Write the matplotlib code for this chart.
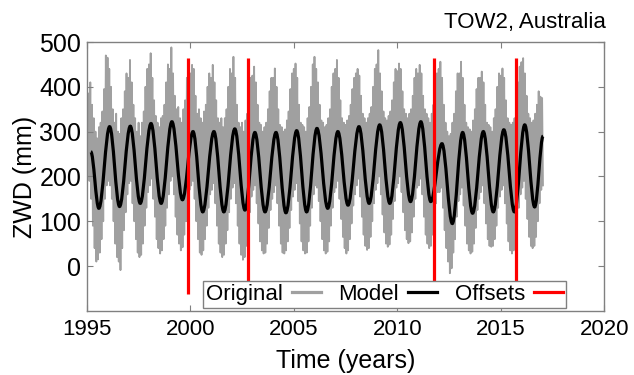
import numpy as np
import matplotlib
matplotlib.use("Agg")
import matplotlib.pyplot as plt
from matplotlib.lines import Line2D
from matplotlib.path import Path
from matplotlib.patches import PathPatch

plt.rcParams['font.family'] = ['Liberation Sans', 'DejaVu Sans']

# Original ZWD series: monthly max / min (mm)
# first row starts in Feb 1995, last row is Jan 2017
orig_hi = [
    [385, 410, 360, 330, 300, 285, 310, 320, 345, 395, 470],
    [465, 440, 400, 350, 320, 340, 300, 295, 330, 350, 390, 430],
    [420, 460, 410, 360, 330, 300, 320, 290, 320, 345, 400, 440],
    [450, 475, 420, 370, 335, 320, 310, 330, 335, 360, 410, 450],
    [440, 488, 430, 380, 350, 355, 330, 320, 350, 370, 420, 455],
    [430, 449, 440, 380, 340, 350, 330, 320, 345, 360, 400, 430],
    [420, 449, 410, 370, 330, 320, 330, 310, 330, 350, 400, 440],
    [430, 467, 420, 360, 320, 310, 320, 300, 325, 340, 395, 420],
    [425, 445, 410, 360, 320, 315, 300, 310, 320, 350, 390, 420],
    [420, 441, 400, 350, 315, 310, 300, 305, 325, 345, 395, 430],
    [440, 452, 420, 360, 320, 315, 310, 300, 330, 355, 400, 450],
    [467, 440, 410, 360, 325, 320, 310, 315, 330, 350, 400, 430],
    [440, 460, 420, 370, 330, 320, 315, 325, 335, 360, 395, 420],
    [430, 440, 425, 380, 340, 330, 320, 330, 340, 355, 400, 440],
    [450, 482, 430, 390, 345, 330, 325, 335, 345, 370, 410, 440],
    [435, 452, 440, 390, 350, 340, 330, 340, 350, 380, 420, 440],
    [430, 449, 430, 380, 350, 340, 330, 320, 340, 360, 400, 430],
    [440, 456, 420, 360, 320, 300, 290, 295, 320, 340, 390, 430],
    [430, 456, 420, 360, 320, 310, 305, 300, 325, 350, 395, 420],
    [420, 434, 410, 360, 320, 315, 310, 300, 330, 350, 400, 430],
    [425, 441, 420, 370, 330, 320, 315, 320, 330, 355, 410, 445],
    [455, 464, 430, 380, 340, 330, 320, 325, 340, 360, 390, 378],
    [375],
]
orig_lo = [
    [190, 150, 90, 40, 10, 15, 30, 60, 100, 150, 180],
    [190, 180, 150, 100, 50, 20, 10, -9, 40, 80, 120, 160],
    [185, 190, 140, 100, 60, 30, 20, 25, 50, 90, 130, 165],
    [180, 195, 150, 110, 60, 40, 28, 35, 60, 90, 130, 160],
    [190, 200, 160, 110, 70, 50, 35, 42, 70, 100, 140, 170],
    [180, 190, 150, 100, 60, 30, 25, 35, 60, 90, 130, 160],
    [170, 185, 140, 90, 50, 30, 20, 25, 50, 80, 120, 150],
    [175, 185, 140, 90, 50, 25, 14, 20, 45, 80, 120, 155],
    [170, 180, 140, 95, 55, 35, 28, 30, 50, 85, 125, 150],
    [165, 180, 140, 90, 50, 30, 28, 35, 55, 85, 125, 155],
    [170, 185, 145, 95, 55, 35, 28, 30, 55, 90, 130, 160],
    [180, 175, 145, 100, 60, 35, 28, 32, 55, 90, 130, 165],
    [175, 190, 150, 105, 65, 40, 28, 35, 60, 95, 135, 160],
    [180, 195, 155, 110, 70, 45, 36, 40, 65, 100, 140, 170],
    [185, 200, 160, 115, 75, 50, 43, 48, 70, 105, 145, 175],
    [185, 200, 165, 120, 80, 60, 51, 55, 75, 110, 150, 175],
    [180, 195, 160, 110, 70, 50, 40, 45, 70, 100, 140, 165],
    [165, 175, 130, 80, 40, 10, -16, -5, 30, 60, 110, 145],
    [160, 175, 135, 90, 50, 35, 28, 32, 50, 85, 125, 150],
    [165, 180, 140, 95, 60, 45, 43, 45, 60, 90, 130, 155],
    [170, 180, 140, 95, 55, 35, 28, 35, 55, 90, 130, 160],
    [175, 190, 150, 105, 65, 45, 40, 45, 65, 100, 140, 170],
    [180],
]
orig_start = 1995 + 1 / 12

# Seasonal model: start, alternating troughs / peaks, end
model_t = [1995.19, 1995.58, 1996.10, 1996.58, 1997.10, 1997.58, 1998.10,
           1998.59, 1999.11, 1999.62, 2000.13, 2000.60, 2001.14, 2001.62,
           2002.15, 2002.64, 2003.12, 2003.61, 2004.14, 2004.62, 2005.14,
           2005.62, 2006.12, 2006.64, 2007.13, 2007.62, 2008.15, 2008.64,
           2009.15, 2009.64, 2010.15, 2010.64, 2011.14, 2011.62, 2012.16,
           2012.66, 2013.16, 2013.64, 2014.16, 2014.64, 2015.15, 2015.66,
           2016.16, 2016.64, 2017.05]
model_v = [255, 129, 311, 133, 312, 140, 318, 140, 322, 148, 300, 121, 300,
           121, 306, 125, 298, 121, 298, 119, 302, 121, 307, 129, 300, 136,
           311, 140, 315, 140, 320, 144, 322, 144, 273, 95, 298, 118, 300,
           121, 304, 121, 315, 132, 290]

offsets = [1999.88, 2002.78, 2011.76, 2015.72]
offset_lo, offset_hi = -62, 464


def smooth_path(xs, ys, k=0.36):
    """Bezier path through the extrema with flat tangents at each one"""
    verts = [(xs[0], ys[0])]
    codes = [Path.MOVETO]
    for i in range(len(xs) - 1):
        dx = xs[i + 1] - xs[i]
        verts += [(xs[i] + k * dx, ys[i]), (xs[i + 1] - k * dx, ys[i + 1]),
                  (xs[i + 1], ys[i + 1])]
        codes += [Path.CURVE4] * 3
    return Path(verts, codes)


def main():
    hi = np.concatenate([np.array(r, float) for r in orig_hi])
    lo = np.concatenate([np.array(r, float) for r in orig_lo])
    t = orig_start + np.arange(len(hi)) / 12
    # zigzag between monthly max and min
    tz = np.column_stack([t, t + 1 / 24]).ravel()
    vz = np.column_stack([hi, lo]).ravel()

    fig = plt.figure(figsize=(6.34, 3.75), dpi=100)
    ax = fig.add_axes([0.137, 0.171, 0.816, 0.717])

    ax.plot(tz, vz, color='#a0a0a0', lw=1.3, zorder=1)
    ax.add_patch(PathPatch(smooth_path(model_t, model_v), fill=False,
                           edgecolor='black', lw=2.3, zorder=2))
    ax.vlines(offsets, offset_lo, offset_hi, color='#ff0000', lw=2.3, zorder=3)

    ax.set_xlim(1995, 2020)
    ax.set_ylim(-100, 500)
    ax.set_xticks([1995, 2000, 2005, 2010, 2015, 2020])
    ax.set_yticks([0, 100, 200, 300, 400, 500])
    ax.tick_params(direction='in', top=True, right=True, length=4,
                   color='#808080', labelsize=16, pad=6)
    ax.tick_params(axis='y', labelsize=18, pad=4)
    for s in ax.spines.values():
        s.set_color('#808080')
        s.set_linewidth(1)

    ax.set_xlabel("Time (years)", fontsize=18, labelpad=6)
    ax.set_ylabel("ZWD (mm)", fontsize=18, labelpad=2)
    fig.text(0.955, 0.941, "TOW2, Australia", ha='right', va='center',
             fontsize=16)

    handles = [Line2D([], [], color='#a0a0a0', lw=2.3),
               Line2D([], [], color='black', lw=2.3),
               Line2D([], [], color='#ff0000', lw=2.3)]
    leg = ax.legend(handles, ["Original", "Model", "Offsets"], ncol=3,
                    loc='lower center', bbox_to_anchor=(0.575, 0.01),
                    markerfirst=False, fancybox=False, framealpha=1,
                    edgecolor='#808080', fontsize=16, handlelength=1.3,
                    handletextpad=0.4, columnspacing=0.8, borderpad=0.15,
                    borderaxespad=0)
    leg.get_frame().set_linewidth(1)

    fig.savefig("out.png", dpi=100)


if __name__ == "__main__":
    main()
